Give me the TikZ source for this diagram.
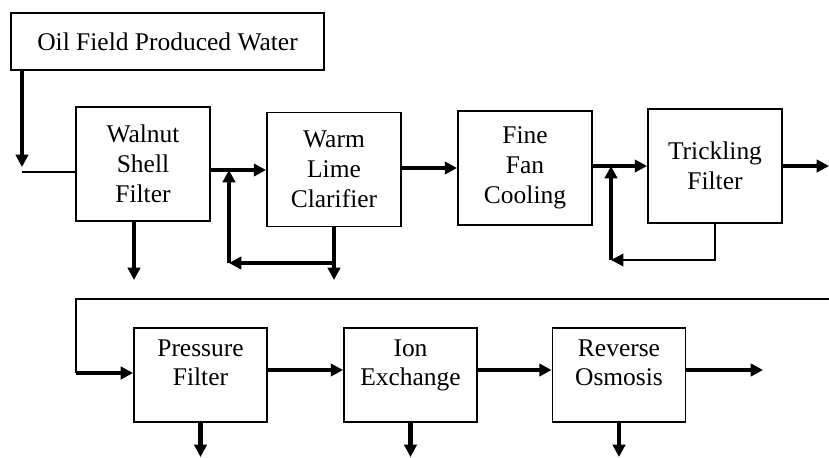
\documentclass[tikz,border=0pt]{standalone}
\usepackage{fontspec}
\setmainfont{Liberation Serif}
\usetikzlibrary{arrows.meta,positioning}

\begin{document}
\begin{tikzpicture}[x=0.02cm, y=-0.02cm,
        unitbox/.style={rectangle, draw=black, line width=1.1pt, align=center,
                        minimum width=2.68cm, minimum height=2.28cm,
                        font=\fontsize{14.5}{17}\selectfont},
        lowbox/.style={unitbox, minimum width=2.66cm, minimum height=1.88cm,
                       text depth=14pt},
        arr/.style={-{Triangle[length=7pt, width=7pt]}, line width=2.3pt},
        farr/.style={-{Triangle[length=7pt, width=7pt]}, line width=1.5pt},
        feed/.style={line width=1.2pt}
      ]
        \useasboundingbox (0,0) rectangle (829,457);
        % Upper train
        \node[unitbox, minimum width=6.26cm, minimum height=1.14cm] (src) at (167.5,41.5)
          {Oil Field Produced Water};
        \node[unitbox] (walnut) at (143,164) {Walnut\\Shell\\Filter};
        \node[unitbox] (lime)   at (334,169.5) {Warm\\Lime\\Clarifier};
        \node[unitbox] (fan)    at (525,168) {Fine\\Fan\\Cooling};
        \node[unitbox] (trick)  at (715,166) {Trickling\\Filter};
        % Lower train
        \node[lowbox] (press) at (200.5,375) {Pressure\\Filter};
        \node[lowbox] (ion)   at (410.5,375) {Ion\\Exchange};
        \node[lowbox] (ro)    at (619,375) {Reverse\\Osmosis};
        % Junctions and free ends
        \coordinate (drop)  at (22,167);
        \coordinate (inlet) at (22,172);
        \coordinate (jl)    at (229,170);
        \coordinate (lr)    at (229,263);
        \coordinate (jt)    at (611,166);
        \coordinate (tr)    at (611,260);
        \coordinate (out1)  at (829,166);
        \coordinate (out2)  at (829,299);
        \coordinate (turn)  at (76,299);
        \coordinate (bend)  at (76,373);
        \coordinate (out3)  at (763,370);
        % Feed
        \draw[arr] (src.south -| drop) -- (drop);
        \draw[line width=0.8pt] (inlet) -- (inlet -| walnut.west);
        % Main flow
        \draw[arr] (walnut.east |- jl) -- (lime.west |- jl);
        \draw[arr] (lime.east |- fan) -- (fan.west);
        \draw[arr] (fan.east |- trick) -- (trick.west);
        \draw[arr] (trick.east) -- (out1);
        % Recycle loops
        \draw[arr] (lime.south) -- (lime.south |- 0,280);
        \draw[arr] (lime.south |- lr) -- (lr);
        \draw[arr] (lr) -- (jl);
        \draw[farr] (trick.south) |- (tr);
        \draw[arr] (tr) -- (jt);
        % Rejects
        \draw[arr] (walnut.south -| 134,0) -- (134,280);
        \draw[arr] (press.south) -- (press.south |- 0,457);
        \draw[arr] (ion.south) -- (ion.south |- 0,457);
        \draw[arr] (ro.south) -- (ro.south |- 0,457);
        % Lower flow
        \draw[feed] (out2) -- (turn) -- (bend);
        \draw[arr] (bend) -- (press.west |- bend);
        \draw[arr] (press.east |- out3) -- (ion.west |- out3);
        \draw[arr] (ion.east |- out3) -- (ro.west |- out3);
        \draw[arr] (ro.east |- out3) -- (out3);
      \end{tikzpicture}
\end{document}
